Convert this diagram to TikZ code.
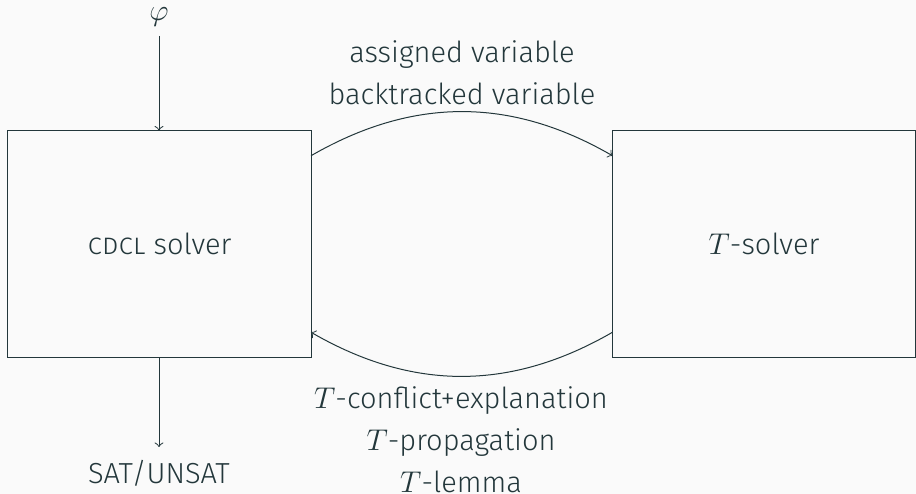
\documentclass[tikz,border=0pt]{standalone}
\usepackage{fontspec}
\setmainfont{Fira Sans Light}
\definecolor{mdt}{HTML}{23373B}
\definecolor{bgc}{HTML}{FAFAFA}
\begin{document}
\begin{tikzpicture}[x=0.4pt,y=0.4pt,
  every node/.style={text=mdt, font=\fontsize{11.6}{16.8}\selectfont},
  solverbox/.style={draw=mdt, line width=0.4pt, minimum width=121.2pt, minimum height=90.8pt, inner sep=0pt, outer sep=0pt},
  arr/.style={draw=mdt, line width=0.4pt, ->},
  lbl/.style={align=center, inner sep=0pt}]
\fill[bgc] (0,0) rectangle (916,494);
\node[solverbox] (cdcl) at (159.5,250) {\textsc{cdcl} solver};
\node[solverbox] (ts) at (764,250) {$T$-solver};
\node[inner sep=0pt] (phi) at (159,477) {$\varphi$};
\node[inner sep=0pt] (sat) at (159,21) {SAT/UNSAT};
\coordinate (phiend) at (159,458);
\coordinate (satend) at (159,47);
\draw[arr] (phiend) -- (phiend |- cdcl.north);
\draw[arr] (cdcl.south -| satend) -- (satend);
\draw[arr] ([yshift=-10.1pt]cdcl.north east) to[bend left=30] ([yshift=-10.1pt]ts.north west);
\draw[arr] ([yshift=10.1pt]ts.south west) to[bend left=30] ([yshift=10.1pt]cdcl.south east);
\node[lbl] (top) at (462,421.5) {assigned variable\\backtracked variable};
\node[lbl] (bot) at (461,54) {$T$-conflict+explanation\\$T$-propagation\\$T$-lemma};
\end{tikzpicture}
\end{document}
